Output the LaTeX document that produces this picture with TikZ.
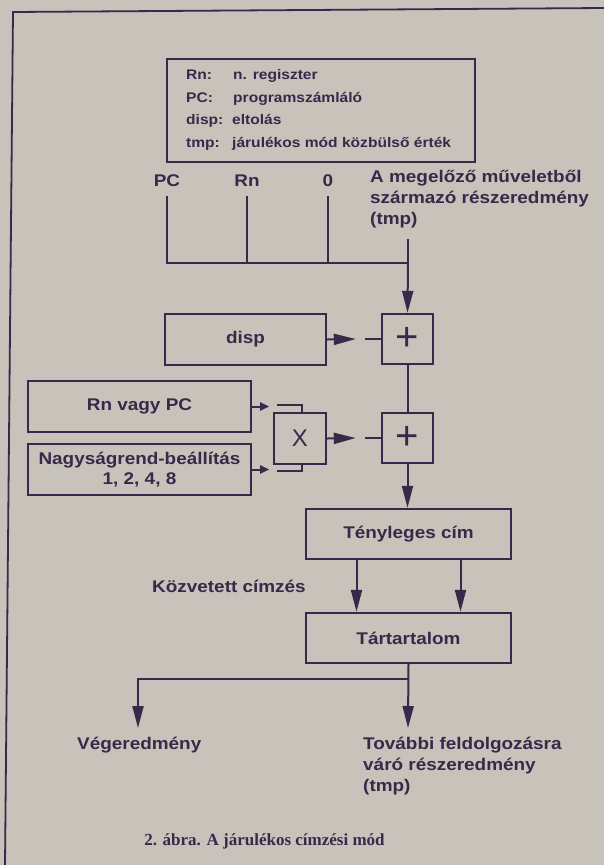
\documentclass[tikz,border=0pt]{standalone}
\usepackage{fontspec}
\setmainfont{Liberation Sans}[FakeStretch=1.12]
\newfontfamily\plainsans{Liberation Sans}
\newfontfamily\capfont{Liberation Serif}
\usetikzlibrary{arrows.meta}
\definecolor{bg}{RGB}{199,195,186}
\definecolor{ink}{RGB}{56,40,74}
\tikzset{
  wire/.style={draw=ink, line width=2pt},
  bigarrow/.style={wire, -{Triangle[length=22pt,width=11pt]}},
  smallarrow/.style={wire, -{Triangle[length=9pt,width=8pt]}},
  box/.style={draw=ink, line width=2.4pt, inner sep=0pt, text=ink,
    font=\bfseries\fontsize{16.9}{20}\selectfont, align=center},
  opbox/.style={box, minimum width=51pt, minimum height=50pt},
  lbl/.style={inner sep=0pt, text=ink, font=\bfseries\fontsize{16.9}{21}\selectfont},
  leg/.style={inner sep=0pt, text=ink, font=\bfseries\fontsize{13.9}{16}\selectfont, anchor=base west}
}
\begin{document}
\begin{tikzpicture}[x=1pt,y=-1pt]
\fill[bg] (0,0) rectangle (604,865);
\useasboundingbox (0,0) rectangle (604,865);
% outer frame
\draw[ink, line width=1.8pt] (604,8) -- (13,12) -- (5,865);

% legend
\node[box, minimum width=308pt, minimum height=103pt] (legend) at (321,110.5) {};
\node[leg] (l1a) at (186,79) {Rn:};
\node[leg] (l1b) at (233,79) {n. regiszter};
\node[leg] (l2a) at (186,102) {PC:};
\node[leg] (l2b) at (233,102) {programszámláló};
\node[leg] (l3a) at (186,124) {disp:};
\node[leg] (l3b) at (232,124) {eltolás};
\node[leg] (l4a) at (186,147) {tmp:};
\node[leg] (l4b) at (232,147) {járulékos mód közbülső érték};

% top inputs
\node[lbl, anchor=base] (pc) at (167,186) {PC};
\node[lbl, anchor=base] (rn) at (247,186) {Rn};
\node[lbl, anchor=base] (zero) at (328,186) {0};
\node[lbl, anchor=base west, align=left] (prev) at (370,224)
  {A megelőző műveletből\\származó részeredmény\\(tmp)};
\coordinate (tmpin) at (408,239);
\coordinate (j) at (408,263);

% boxes
\node[box, minimum width=161pt, minimum height=51pt] (disp) at (245.5,339.5) {disp};
\node[opbox, font=\plainsans\fontsize{40}{40}\selectfont] (plus1) at (407.5,339) {+};
\node[opbox, font=\plainsans\fontsize{40}{40}\selectfont] (plus2) at (407.5,438) {+};
\node[opbox, minimum width=52pt, minimum height=51pt, font=\plainsans\fontsize{24}{24}\selectfont] (times) at (300,438.5) {X};
\node[box, minimum width=223pt, minimum height=51pt] (rnpc) at (139.5,406.5) {Rn vagy PC};
\node[box, minimum width=223pt, minimum height=51pt] (nagy) at (139.5,469.5) {Nagyságrend-beállítás\\1, 2, 4, 8};
\node[box, minimum width=205pt, minimum height=50pt] (teny) at (408.5,534) {Tényleges cím};
\node[box, minimum width=205pt, minimum height=50pt] (tart) at (408.5,638) {Tártartalom};

\node[lbl, anchor=base west] (kozv) at (152,592) {Közvetett címzés};
\node[lbl, anchor=base west] (veg) at (77,749) {Végeredmény};
\node[lbl, anchor=base west, align=left] (tovabbi) at (363,791)
  {További feldolgozásra\\váró részeredmény\\(tmp)};
\coordinate (split) at (408,679);
\coordinate (vtip) at (138,728);
\coordinate (ttip) at (408,728);

% bus
\draw[wire] ([yshift=-10pt]pc.south) |- (j);
\draw[wire] ([yshift=-10pt]rn.south) -- (rn.south |- j);
\draw[wire] ([yshift=-10pt]zero.south) -- (zero.south |- j);
\draw[wire] (tmpin) -- (j);
\draw[bigarrow] (j) -- (plus1.north);

% disp -> plus1
\draw[bigarrow] (disp.east) -- ([xshift=-25pt]plus1.west);
\draw[wire] ([xshift=-16pt]plus1.west) -- (plus1.west);
\draw[wire] (plus1.south) -- (plus2.north);

% multiplier inputs
\draw[smallarrow] (rnpc.east) -- ++(17,0);
\draw[wire] ([xshift=2pt]times.north) -- ++(0,-7) -- ++(-25,0);
\draw[smallarrow] (nagy.east) -- ++(17,0);
\draw[wire] ([xshift=2pt]times.south) -- ++(0,6) -- ++(-25,0);

% times -> plus2
\draw[bigarrow] (times.east) -- ([xshift=-25pt]plus2.west);
\draw[wire] ([xshift=-16pt]plus2.west) -- (plus2.west);

% plus2 -> teny
\draw[bigarrow] (plus2.south) -- (plus2.south |- teny.north);
\draw[bigarrow] ([xshift=-52pt]teny.south) -- ([xshift=-52pt]tart.north);
\draw[bigarrow] ([xshift=52pt]teny.south) -- ([xshift=52pt]tart.north);

% outputs
\draw[bigarrow] (tart.south) -- (ttip);
\draw[bigarrow] (split) -| (vtip);

% caption
\node[inner sep=0pt, text=ink, font=\capfont\bfseries\fontsize{17}{20}\selectfont, anchor=base] (cap) at (264.5,845)
  {2. ábra. A járulékos címzési mód};
\end{tikzpicture}
\end{document}
